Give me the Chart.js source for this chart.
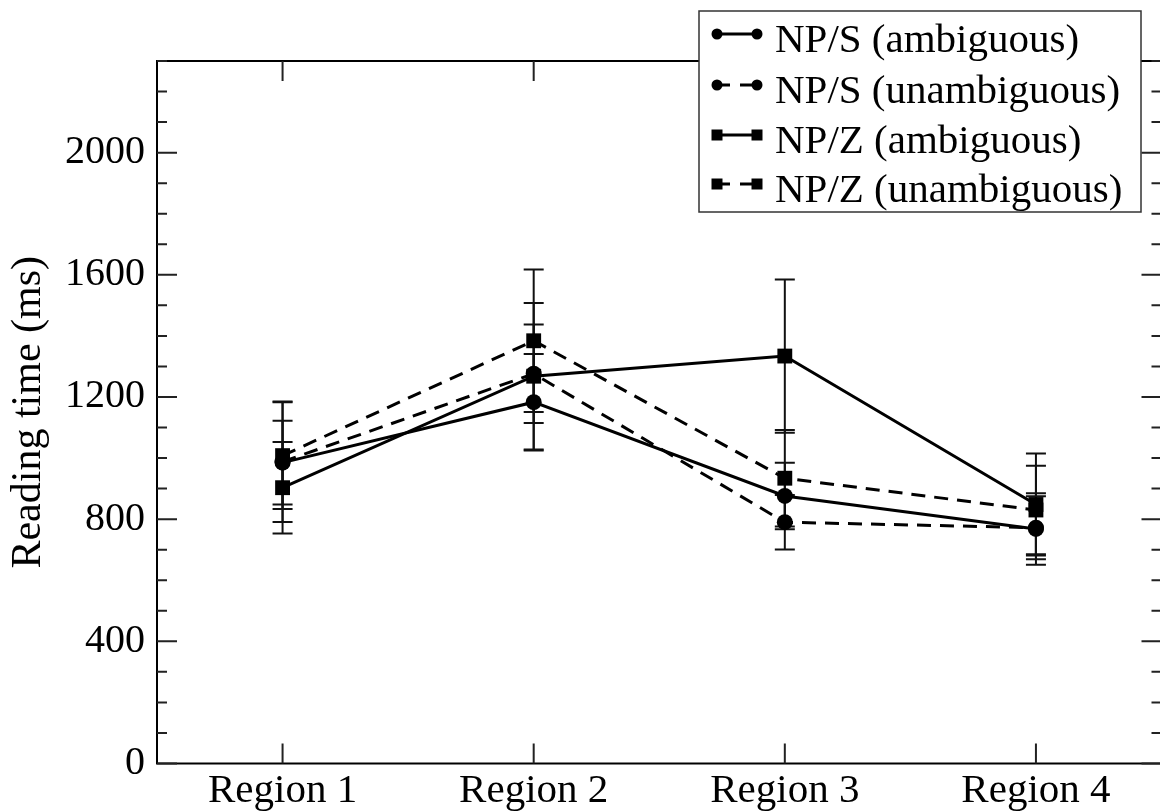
<!DOCTYPE html>
<html><head><meta charset="utf-8">
<script src="https://cdn.jsdelivr.net/npm/chart.js@4/dist/chart.umd.min.js"></script>
<style>html,body{margin:0;padding:0;overflow:hidden;background:#fff;width:1160px;height:811px}canvas{display:block}</style>
</head><body>
<canvas id="c" width="1172" height="811"></canvas>
<script>
const categories = ['Region 1', 'Region 2', 'Region 3', 'Region 4'];
const seriesNames = ['NP/S (ambiguous)', 'NP/S (unambiguous)', 'NP/Z (ambiguous)', 'NP/Z (unambiguous)'];
const npsAmb = [985, 1183, 876, 768];
const npsAmbErr = [137, 158, 109, 117];
const npsUnamb = [988, 1276, 790, 772];
const npsUnambErr = [197, 161, 89, 103];
const npzAmb = [903, 1268, 1334, 848];
const npzAmbErr = [150, 240, 251, 167];
const npzUnamb = [1008, 1384, 934, 830];
const npzUnambErr = [175, 233, 158, 145];
const yTickValues = [0, 400, 800, 1200, 1600, 2000];
const yMinorStep = 100;
const yMin = 0, yMax = 2300;
const yTitle = 'Reading time (ms)';

const FONT = "'Liberation Serif', 'Times New Roman', serif";
const errors = [npsAmbErr, npsUnambErr, npzAmbErr, npzUnambErr];
const DASH = [14, 9];

function ds(label, data, shape, dashed) {
  return {
    label, data,
    borderColor: '#000', backgroundColor: '#000', borderWidth: 3,
    borderDash: dashed ? DASH : [],
    pointStyle: shape, pointRadius: shape === 'circle' ? 8 : 10.5,
    pointBorderWidth: 0, pointBackgroundColor: '#000',
    tension: 0, clip: false
  };
}

const framePlugin = {
  id: 'frame',
  beforeDatasetsDraw(chart) {
    const {ctx, chartArea: a, scales: {x, y}} = chart;
    ctx.save();
    ctx.strokeStyle = '#000';
    ctx.lineWidth = 2;
    ctx.strokeRect(a.left, a.top, a.right - a.left, a.bottom - a.top);
    ctx.strokeStyle = '#222';
    ctx.beginPath();
    for (let v = yMin; v <= yMax; v += yMinorStep) {
      const py = y.getPixelForValue(v);
      const len = (v % 400 === 0) ? 20 : 10;
      ctx.moveTo(a.left, py); ctx.lineTo(a.left + len, py);
      ctx.moveTo(a.right, py); ctx.lineTo(a.right - len, py);
    }
    categories.forEach((c, i) => {
      const px = x.getPixelForValue(i);
      ctx.moveTo(px, a.bottom); ctx.lineTo(px, a.bottom - 20);
      ctx.moveTo(px, a.top); ctx.lineTo(px, a.top + 20);
    });
    ctx.stroke();
    // error bars
    ctx.strokeStyle = '#111';
    ctx.lineWidth = 2;
    chart.data.datasets.forEach((d, i) => {
      d.data.forEach((v, j) => {
        const e = errors[i][j];
        const px = x.getPixelForValue(j);
        const t = y.getPixelForValue(v + e), b = y.getPixelForValue(v - e);
        ctx.beginPath();
        ctx.moveTo(px, t); ctx.lineTo(px, b);
        ctx.moveTo(px - 10, t); ctx.lineTo(px + 10, t);
        ctx.moveTo(px - 10, b); ctx.lineTo(px + 10, b);
        ctx.stroke();
      });
    });
    ctx.restore();
  }
};

const legendPlugin = {
  id: 'boxLegend',
  afterDraw(chart) {
    const ctx = chart.ctx;
    ctx.save();
    const bx = 699, by = 11, bw = 442, bh = 201;
    ctx.fillStyle = '#fff';
    ctx.fillRect(bx, by, bw, bh);
    ctx.strokeStyle = '#333';
    ctx.lineWidth = 1.5;
    ctx.strokeRect(bx, by, bw, bh);
    const rows = [34, 85, 135, 184];
    chart.data.datasets.forEach((d, i) => {
      const yy = rows[i];
      const x1 = 717, x2 = 757;
      ctx.strokeStyle = '#000';
      ctx.lineWidth = 3;
      ctx.setLineDash(d.borderDash.length ? [13, 10] : []);
      ctx.beginPath(); ctx.moveTo(x1, yy); ctx.lineTo(x2, yy); ctx.stroke();
      ctx.setLineDash([]);
      ctx.fillStyle = '#000';
      [x1, x2].forEach(xx => {
        ctx.beginPath();
        if (d.pointStyle === 'circle') { ctx.arc(xx, yy, 5.5, 0, Math.PI * 2); }
        else { ctx.rect(xx - 5.5, yy - 5.5, 11, 11); }
        ctx.fill();
      });
      ctx.font = '41px ' + FONT;
      ctx.textBaseline = 'alphabetic';
      ctx.textAlign = 'left';
      ctx.fillText(d.label, 775, yy + 18);
    });
    ctx.restore();
  }
};

new Chart(document.getElementById('c'), {
  type: 'line',
  data: {
    labels: categories,
    datasets: [
      ds(seriesNames[0], npsAmb, 'circle', false),
      ds(seriesNames[1], npsUnamb, 'circle', true),
      ds(seriesNames[2], npzAmb, 'rect', false),
      ds(seriesNames[3], npzUnamb, 'rect', true)
    ]
  },
  options: {
    responsive: false, animation: false, devicePixelRatio: 1,
    layout: {padding: {top: 61, right: 10.5, left: 0, bottom: 0}},
    plugins: {legend: {display: false}, tooltip: {enabled: false}},
    scales: {
      x: {
        type: 'category', offset: true,
        grid: {display: false, drawTicks: false}, border: {display: false},
        ticks: {font: {family: FONT, size: 41}, color: '#000', padding: 3, maxRotation: 0, autoSkip: false},
        afterFit(s) { s.height = 47.5; }
      },
      y: {
        min: yMin, max: yMax,
        grid: {display: false, drawTicks: false}, border: {display: false},
        ticks: {font: {family: FONT, size: 40}, color: '#000', padding: 12, callback: v => String(v)},
        afterBuildTicks(s) { s.ticks = yTickValues.map(v => ({value: v})); },
        afterFit(s) { s.width = 157; },
        title: {display: true, text: yTitle, font: {family: FONT, size: 42}, color: '#000', padding: {top: 4, bottom: 0}}
      }
    }
  },
  plugins: [framePlugin, legendPlugin]
});
</script>
</body></html>
